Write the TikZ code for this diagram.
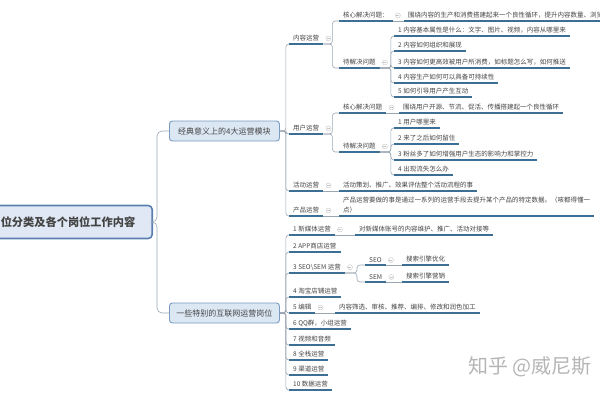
\documentclass[tikz,border=0pt]{standalone}
\usepackage{fontspec}
\setmainfont{Noto Sans CJK SC}
\usepackage{tikz}
\usetikzlibrary{calc}
\definecolor{txt}{HTML}{444444}
\definecolor{ulinec}{HTML}{3B6F94}
\definecolor{wirec}{HTML}{9AA6B2}
\definecolor{boxline}{HTML}{7A9AC0}
\definecolor{boxfill}{HTML}{DCE7F4}
\definecolor{rootline}{HTML}{5A7FB0}
\definecolor{rootfill}{HTML}{DFE8F4}
\definecolor{foldc}{HTML}{C4C4C4}
\definecolor{wmc}{HTML}{B5B5B5}

\begin{document}
\begin{tikzpicture}[x=1pt,y=-1pt,
    rootbox/.style={draw=rootline,fill=rootfill,line width=1.6pt,rounded corners=4pt,
      font=\fontsize{11.2}{13}\selectfont\bfseries,text=txt,text width=140pt,align=right,
      inner xsep=17pt,minimum height=33pt,anchor=east},
    mainbox/.style={draw=boxline,fill=boxfill,line width=0.9pt,rounded corners=3pt,
      font=\fontsize{8}{10}\selectfont,text=txt,minimum width=110pt,minimum height=20pt,anchor=west},
    topic/.style={font=\fontsize{6.5}{10}\selectfont,text=txt,inner xsep=4pt,inner ysep=2.3pt,
      anchor=south west,align=left},
    underl/.style={draw=ulinec,line width=1.1pt},
    link/.style={draw=wirec,line width=0.6pt,rounded corners=3pt},
    fold/.style={circle,draw=foldc,line width=0.4pt,inner sep=0pt,minimum size=5pt,
      path picture={\draw[foldc,line width=0.4pt]
        ([xshift=-1.5pt]path picture bounding box.center) -- ([xshift=1.5pt]path picture bounding box.center);}},
    wmark/.style={font=\fontsize{20}{24}\selectfont,text=wmc,anchor=west,inner sep=0pt}]
  \useasboundingbox (0,0) rectangle (600,400);

  % root and the two main branches
  \node[rootbox] (root) at (153,222) {位分类及各个岗位工作内容};
  \node[mainbox] (b1) at (169,131) {经典意义上的4大运营模块};
  \node[mainbox] (b2) at (169,313) {一些特别的互联网运营岗位};

  % classic modules
  \node[topic] (nr) at (289,44) {内容运营};
  \node[topic] (yh) at (289,134) {用户运营};
  \node[topic] (hd) at (289,191) {活动运营};
  \node[topic] (cp) at (289,216) {产品运营};

  \node[topic] (nrhx) at (339,21) {核心解决问题：};
  \node[topic] (nrhxa) at (404,21) {围绕内容的生产和消费搭建起来一个良性循环，提升内容数量、浏览};
  \node[topic] (nrdj) at (339,68) {待解决问题};
  \node[topic] (nr1) at (394,36) {1 内容基本属性是什么：文字、图片、视频，内容从哪里来};
  \node[topic] (nr2) at (394,51) {2 内容如何组织和展现};
  \node[topic] (nr3) at (394,68) {3 内容如何更高效被用户所消费，如标题怎么写，如何推送};
  \node[topic] (nr4) at (394,83) {4 内容生产如何可以具备可持续性};
  \node[topic] (nr5) at (394,97) {5 如何引导用户产生互动};

  \node[topic] (yhhx) at (339,113) {核心解决问题};
  \node[topic] (yhhxa) at (399,113) {围绕用户开源、节流、促活、传播搭建起一个良性循环};
  \node[topic] (yhdj) at (339,152) {待解决问题};
  \node[topic] (yh1) at (394,128) {1 用户哪里来};
  \node[topic] (yh2) at (394,144) {2 来了之后如何留住};
  \node[topic] (yh3) at (394,160) {3 粉丝多了如何增强用户生态的影响力和掌控力};
  \node[topic] (yh4) at (394,175) {4 出现流失怎么办};

  \node[topic] (hda) at (339,191) {活动策划、推广、效果评估整个活动流程的事};
  \node[topic] (cpa) at (339,216) {产品运营要做的事是通过一系列的运营手段去提升某个产品的特定数据。（咳都得懂一\\点）};

  % special positions
  \node[topic] (m1) at (289,235) {1 新媒体运营};
  \node[topic] (m2) at (289,252) {2 APP商店运营};
  \node[topic] (m3) at (289,273) {3 SEO\textbackslash SEM 运营};
  \node[topic] (m4) at (289,297) {4 淘宝店铺运营};
  \node[topic] (m5) at (289,313) {5 编辑};
  \node[topic] (m6) at (289,329) {6 QQ群，小组运营};
  \node[topic] (m7) at (289,345) {7 视频和音频};
  \node[topic] (m8) at (289,360) {8 全栈运营};
  \node[topic] (m9) at (289,375) {9 渠道运营};
  \node[topic] (m10) at (289,390) {10 数据运营};

  \node[topic] (m1a) at (355,235) {对新媒体账号的内容维护、推广、活动对接等};
  \node[topic] (seo) at (365,265) {SEO};
  \node[topic] (sem) at (365,282) {SEM};
  \node[topic] (seoa) at (402,265) {搜索引擎优化};
  \node[topic] (sema) at (402,282) {搜索引擎营销};
  \node[topic] (m5a) at (335,313) {内容筛选、审核、推荐、编排、修改和润色加工};

  \node[wmark] (zhihu) at (468,367) {知乎 @威尼斯};

  % underlines
  \foreach \n in {nr,yh,hd,cp,nrhx,nrhxa,nrdj,nr1,nr2,nr3,nr4,nr5,yhhx,yhhxa,yhdj,yh1,yh2,yh3,yh4,
      hda,cpa,m1,m2,m3,m4,m5,m6,m7,m8,m9,m10,m1a,seo,sem,seoa,sema,m5a}
    \draw[underl] (\n.south west) -- (\n.south east);

  % connectors
  \draw[link,rounded corners=5pt] (root.east) -- ++(4,0) |- (b1.west);
  \draw[link,rounded corners=5pt] (root.east) -- ++(4,0) |- (b2.west);
  \foreach \n in {nr,yh,hd,cp}
    \draw[link] (b1.east) -- ++(6,0) |- (\n.south west);
  \foreach \i in {1,...,10}
    \draw[link] (b2.east) -- ++(6,0) |- (m\i.south west);
  \draw[link] (nr.south east) -- ++(9,0) |- (nrhx.south west);
  \draw[link] (nr.south east) -- ++(9,0) |- (nrdj.south west);
  \draw[link] (yh.south east) -- ++(9,0) |- (yhhx.south west);
  \draw[link] (yh.south east) -- ++(9,0) |- (yhdj.south west);
  \foreach \i in {1,...,5}
    \draw[link] (nrdj.south east) -- ++(11,0) |- (nr\i.south west);
  \foreach \i in {1,...,4}
    \draw[link] (yhdj.south east) -- ++(11,0) |- (yh\i.south west);
  \draw[link] (m3.south east) -- ++(12,0) |- (seo.south west);
  \draw[link] (m3.south east) -- ++(12,0) |- (sem.south west);
  \draw[link] (nrhx.south east) -- (nrhxa.south west);
  \draw[link] (yhhx.south east) -- (yhhxa.south west);
  \draw[link] (hd.south east) -- (hda.south west);
  \draw[link] (cp.south east) -- (cpa.south west);
  \draw[link] (m1.south east) -- (m1a.south west);
  \draw[link] (m5.south east) -- (m5a.south west);
  \draw[link] (seo.south east) -- (seoa.south west);
  \draw[link] (sem.south east) -- (sema.south west);

  % fold markers
  \foreach \n in {nr,yh,hd,cp,nrhx,nrdj,yhhx,yhdj,m1,m3,m5,seo,sem}
    \node[fold] (f\n) at ([xshift=5pt]\n.east) {};
\end{tikzpicture}
\end{document}
